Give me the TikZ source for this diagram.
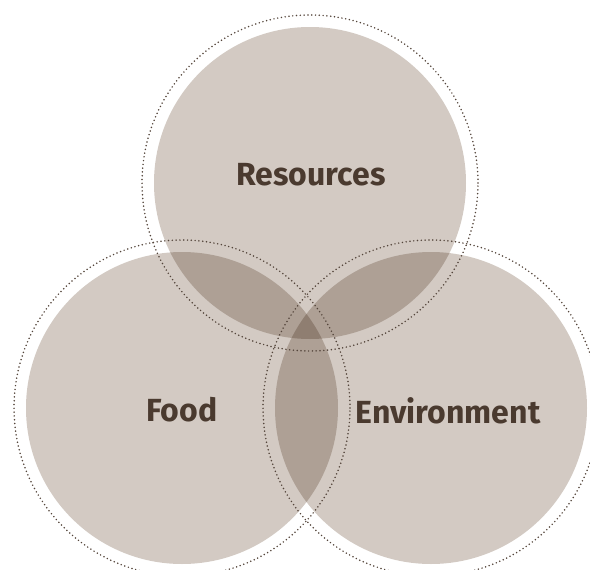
\documentclass[tikz,border=0pt]{standalone}
\usepackage{fontspec}
\setmainfont{Fira Sans}
\usetikzlibrary{positioning}

\definecolor{sandfill}{HTML}{D3CAC3}
\definecolor{barkbrown}{HTML}{4A3A2F}
\definecolor{dotbrown}{HTML}{54453B}

\tikzset{
  petal/.style={circle, fill=sandfill, draw=none, inner sep=0pt, minimum size=312pt},
  halo/.style={dotbrown, line width=1.7pt, line cap=round, dash pattern=on 0pt off 3.8pt},
  tag/.style={barkbrown, font=\bfseries\fontsize{32}{34}\selectfont}
}

\begin{document}
\begin{tikzpicture}[x=1pt, y=-1pt]
  \useasboundingbox (0,0) rectangle (590,570);
  \clip (0,0) rectangle (590,570);

  % Three circles, multiplied so the overlaps darken
  \begin{scope}[blend group=multiply]
    \node[petal] (res) at (310,183) {};
    \node[petal] (food) at (182,408) {};
    \node[petal] (env) at (431,408) {};
  \end{scope}

  % Dotted rings around each circle
  \draw[halo] (res.center) circle[radius=168pt];
  \draw[halo] (food.center) circle[radius=168pt];
  \draw[halo] (env.center) circle[radius=168pt];

  % Labels
  \node[tag] (resl) at (311,175) {Resources};
  \node[tag] (foodl) at (182,410) {Food};
  \node[tag] (envl) at (448,411) {Environment};
\end{tikzpicture}
\end{document}
